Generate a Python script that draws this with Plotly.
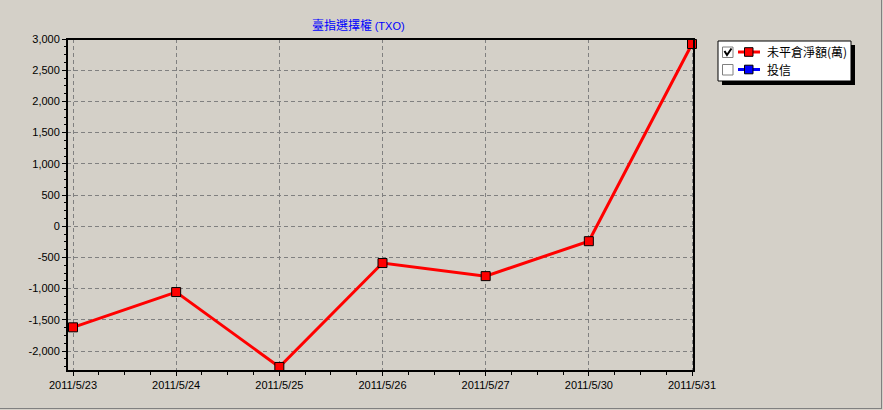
import plotly.graph_objects as go

dates = ["2011/5/23", "2011/5/24", "2011/5/25", "2011/5/26", "2011/5/27", "2011/5/30", "2011/5/31"]
open_interest = [-1620, -1055, -2255, -590, -800, -240, 2920]
y_ticks = [3000, 2500, 2000, 1500, 1000, 500, 0, -500, -1000, -1500, -2000]
y_tick_text = [f"{v:,}" for v in y_ticks]
series_names = ["未平倉淨額(萬)", "投信"]

W, H = 883, 410
L, R, T, B = 67, 694, 39, 371
BG = "#D4D0C8"
FONT = "Liberation Sans, Arial, sans-serif"
CJK = "Noto Sans CJK TC, sans-serif"

def px(x):
    return (x - L) / (R - L)

def py(y):
    return (B - y) / (B - T)

x_idx = list(range(len(dates)))
step = (692 - 73) / 6.0

fig = go.Figure()
fig.add_trace(go.Scatter(
    x=x_idx, y=open_interest, mode="lines+markers",
    line=dict(color="#FF0000", width=3),
    marker=dict(symbol="square", size=9, color="#FF0000", line=dict(color="#000000", width=1)),
    showlegend=False, cliponaxis=False,
))

shapes = []
# legend shadow
shapes.append(dict(type="rect", xref="paper", yref="paper", x0=px(722), x1=px(855), y0=py(85), y1=py(45),
                   fillcolor="#000000", line=dict(width=0), layer="above"))
shapes.append(dict(type="rect", xref="paper", yref="paper", x0=px(718), x1=px(851), y0=py(81), y1=py(41),
                   fillcolor="#FFFFFF", line=dict(color="#000000", width=1), layer="above"))
# checkboxes
for (y0, y1) in [(47, 57.5), (64.5, 75)]:
    shapes.append(dict(type="rect", xref="paper", yref="paper", x0=px(722.5), x1=px(733), y0=py(y1), y1=py(y0),
                       fillcolor="#FFFFFF", line=dict(color="#808080", width=1), layer="above"))
# check mark
shapes.append(dict(type="path", xref="paper", yref="paper",
                   path=f"M {px(724.5)} {py(51)} L {px(727)} {py(55)} L {px(731.5)} {py(48.5)}",
                   line=dict(color="#000000", width=2), layer="above"))
# legend line samples
for (yc, col) in [(52, "#FF0000"), (69.5, "#0000FF")]:
    shapes.append(dict(type="line", xref="paper", yref="paper", x0=px(738), x1=px(760), y0=py(yc), y1=py(yc),
                       line=dict(color=col, width=3), layer="above"))
    shapes.append(dict(type="rect", xref="paper", yref="paper", x0=px(744.5), x1=px(753), y0=py(yc + 4.3), y1=py(yc - 4.3),
                       fillcolor=col, line=dict(color="#000000", width=1), layer="above"))
# plot frame
shapes.append(dict(type="rect", xref="paper", yref="paper", x0=0, x1=1, y0=0, y1=1,
                   line=dict(color="#000000", width=2), layer="above"))
# outer window border
shapes.append(dict(type="line", xref="paper", yref="paper", x0=px(0), x1=px(882), y0=py(408.5), y1=py(408.5),
                   line=dict(color="#808080", width=1), layer="above"))
shapes.append(dict(type="line", xref="paper", yref="paper", x0=px(881.5), x1=px(881.5), y0=py(0), y1=py(409),
                   line=dict(color="#808080", width=1), layer="above"))

annotations = [
    dict(text="臺指選擇權 <span style='font-size:11px;font-family:Liberation Sans'>(TXO)</span>",
         xref="paper", yref="paper", x=px(358), y=py(25), xanchor="center", yanchor="middle",
         showarrow=False, font=dict(family=CJK, size=12, color="#0000FF")),
    dict(text=series_names[0], xref="paper", yref="paper", x=px(765), y=py(51.5), xanchor="left", yanchor="middle",
         showarrow=False, font=dict(family=CJK, size=12, color="#000000")),
    dict(text=series_names[1], xref="paper", yref="paper", x=px(765), y=py(69.5), xanchor="left", yanchor="middle",
         showarrow=False, font=dict(family=CJK, size=12, color="#000000")),
]

fig.update_layout(
    width=W, height=H,
    margin=dict(l=L, r=W - R, t=T, b=H - B, pad=0),
    paper_bgcolor=BG, plot_bgcolor=BG,
    font=dict(family=FONT, size=11, color="#000000"),
    shapes=shapes, annotations=annotations,
    hovermode=False,
    xaxis=dict(range=[-6 / step, 6 + 2 / step], tickmode="array", tickvals=x_idx, ticktext=dates,
               showgrid=True, gridcolor="#808080", griddash="4px,3px", gridwidth=1,
               ticks="outside", ticklen=4, tickcolor="#000000", zeroline=False,
               showline=False, fixedrange=True,
               minor=dict(tickmode="linear", tick0=0, dtick=0.25, ticks="outside", ticklen=3,
                          tickcolor="#000000", showgrid=False)),
    yaxis=dict(range=[-2320, 3000], tickmode="array", tickvals=y_ticks, ticktext=y_tick_text,
               showgrid=True, gridcolor="#808080", griddash="4px,3px", gridwidth=1,
               ticks="outside", ticklen=4, tickcolor="#000000", zeroline=False,
               showline=False, fixedrange=True,
               minor=dict(tickmode="linear", tick0=0, dtick=125, ticks="outside", ticklen=2,
                          tickcolor="#000000", showgrid=False)),
)

fig.write_html("out.html", config={"displayModeBar": False, "staticPlot": True},
               post_script="document.body.style.margin='0';document.body.style.background='#D4D0C8';")
